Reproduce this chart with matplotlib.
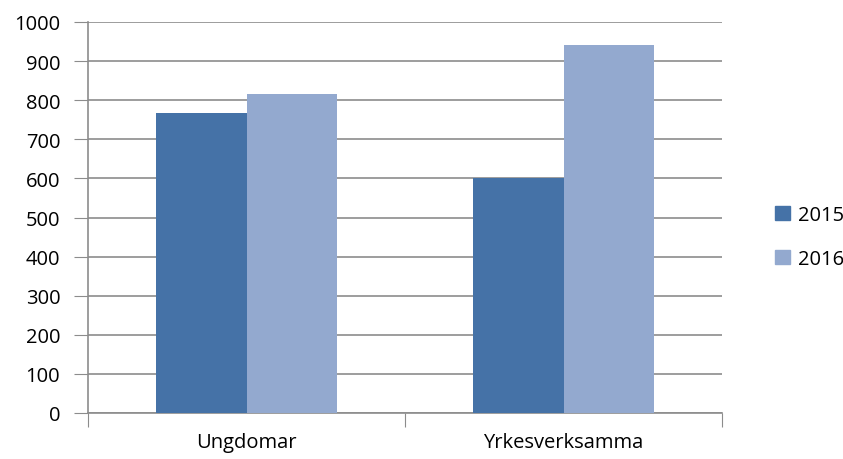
import numpy as np
import matplotlib.pyplot as plt
from matplotlib.patches import Patch

categories = ["Ungdomar", "Yrkesverksamma"]
series = ["2015", "2016"]
values_2015 = [766, 600]
values_2016 = [815, 942]
colors = ["#4572A7", "#93A9CF"]

plt.rcParams['font.family'] = ['Open Sans', 'DejaVu Sans']

fig = plt.figure(figsize=(8.43, 4.6), dpi=100)
ax = fig.add_axes([88/843, 46/460, (722-88)/843, (414-23)/460])

x = np.arange(len(categories))
w = 1 / 3.5
ax.bar(x - w/2, values_2015, w, color=colors[0], zorder=3)
ax.bar(x + w/2, values_2016, w, color=colors[1], zorder=3)

ax.set_xlim(-0.5, 1.5)
ax.set_ylim(0, 1000)
ax.set_yticks(np.arange(0, 1001, 100))
ax.yaxis.grid(True, color="#8c8c8c", linewidth=1.2, zorder=0)

# category ticks sit on the boundaries
ax.set_xticks([-0.5, 0.5, 1.5])
ax.set_xticklabels([])
ax.set_xticks(x, minor=True)
ax.set_xticklabels(categories, minor=True, fontsize=14.5)
ax.tick_params(axis='x', which='minor', length=0, pad=14)
ax.tick_params(axis='x', which='major', length=10, color="#8c8c8c", direction='out')
ax.tick_params(axis='y', length=10, color="#8c8c8c", direction='out', labelsize=14.5, pad=10)

for s in ['top', 'right']:
    ax.spines[s].set_visible(False)
for s in ['left', 'bottom']:
    ax.spines[s].set_color("#8c8c8c")
    ax.spines[s].set_linewidth(1.2)

handles = [Patch(color=c, label=s) for c, s in zip(colors, series)]
fig.legend(handles=handles, loc='center left', bbox_to_anchor=(757/843, 222/460),
           frameon=False, fontsize=14.5, handlelength=0.75, handleheight=0.75,
           handletextpad=0.4, labelspacing=1.2)

fig.savefig("out.png", dpi=100)
